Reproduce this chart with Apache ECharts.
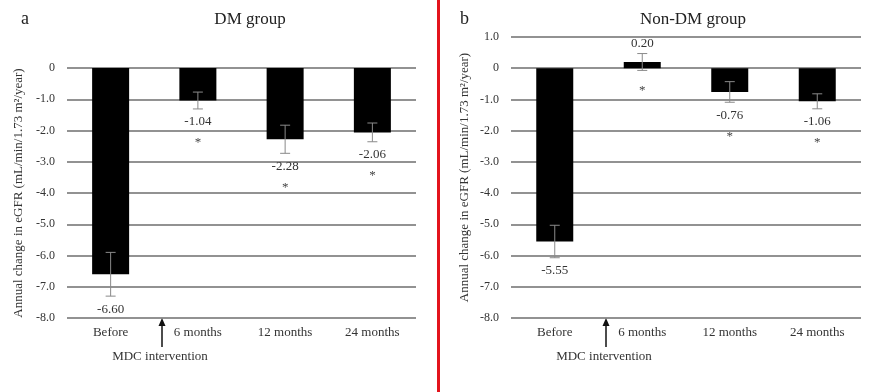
<!DOCTYPE html>
<html>
<head>
<meta charset="utf-8">
<script src="https://cdn.jsdelivr.net/npm/echarts@6/dist/echarts.min.js"></script>
<style>
  html, body { margin: 0; padding: 0; background: #fff; }
  #chart { width: 879px; height: 392px; }
</style>
</head>
<body>
<div id="chart"></div>
<script>
const categories = ['Before', '6 months', '12 months', '24 months']

// panel a: DM group
const dmValues = [-6.60, -1.04, -2.28, -2.06]
const dmErrors = [0.70, 0.27, 0.45, 0.30]
const dmStars = [0, 1, 1, 1]

// panel b: Non-DM group
const nonDmValues = [-5.55, 0.20, -0.76, -1.06]
const nonDmErrors = [0.52, 0.27, 0.33, 0.24]
const nonDmStars = [0, 1, 1, 1]

const dmAxisRange = [-8, 0]
const nonDmAxisRange = [-8, 1]

const font = 'Liberation Serif'
const textColor = '#333'
const axisTitle = 'Annual change in eGFR (mL/min/1.73 m²/year)'

const chart = echarts.init(document.getElementById('chart'))

const tickFormat = (v) => (v === 0 ? '0' : v.toFixed(1))

const errorItem = (params, api) => {
  const idx = api.value(0)
  const val = api.value(1)
  const err = api.value(2)
  const star = api.value(3)
  const hi = api.coord([idx, val + err])
  const lo = api.coord([idx, val - err])
  const x = hi[0]
  const half = 5
  const lineStyle = { stroke: '#8a8a8a', lineWidth: 1 }
  const children = [
    { type: 'line', shape: { x1: x, y1: hi[1], x2: x, y2: lo[1] }, style: lineStyle },
    { type: 'line', shape: { x1: x - half, y1: hi[1], x2: x + half, y2: hi[1] }, style: lineStyle },
    { type: 'line', shape: { x1: x - half, y1: lo[1], x2: x + half, y2: lo[1] }, style: lineStyle }
  ]
  let labelY, starY
  if (val >= 0) {
    labelY = hi[1] - 10
    starY = lo[1] + 17
  } else {
    labelY = lo[1] + 13
    starY = labelY + 18
  }
  children.push({
    type: 'text',
    style: {
      text: val.toFixed(2), x: x, y: labelY, align: 'center', verticalAlign: 'middle',
      font: '13px "' + font + '"', fill: textColor
    }
  })
  if (star) {
    children.push({
      type: 'text',
      style: {
        text: '*', x: x, y: starY + 3, align: 'center', verticalAlign: 'middle',
        font: '13px "' + font + '"', fill: '#444'
      }
    })
  }
  return { type: 'group', children }
}

const makeY = (idx, range, nameGap) => ({
  type: 'value',
  gridIndex: idx,
  min: range[0],
  max: range[1],
  interval: 1,
  name: axisTitle,
  nameLocation: 'middle',
  nameGap: nameGap,
  nameTextStyle: { fontFamily: font, fontSize: 13, color: textColor },
  axisLine: { show: false },
  axisTick: { show: false },
  axisLabel: { formatter: tickFormat, fontFamily: font, fontSize: 12, color: textColor, margin: 12 },
  splitLine: { show: true, lineStyle: { color: '#6e6e6e', width: 1.5 } }
})

const makeX = (idx) => ({
  type: 'category',
  gridIndex: idx,
  data: categories,
  axisLine: { show: false },
  axisTick: { show: false },
  axisLabel: { fontFamily: font, fontSize: 13, color: textColor, margin: 8 }
})

const arrow = (x, tipY, baseY) => [
  { type: 'line', shape: { x1: x, y1: tipY + 6, x2: x, y2: baseY }, style: { stroke: '#111', lineWidth: 1.5 } },
  { type: 'polygon', shape: { points: [[x, tipY], [x - 3.5, tipY + 8], [x + 3.5, tipY + 8]] }, style: { fill: '#111' } }
]

const option = {
  backgroundColor: '#fff',
  animation: false,
  title: [
    { text: 'DM group', left: 245, top: 6, textAlign: 'center', textStyle: { fontFamily: font, fontSize: 17, fontWeight: 'normal', color: '#222' } },
    { text: 'Non-DM group', left: 688, top: 6, textAlign: 'center', textStyle: { fontFamily: font, fontSize: 17, fontWeight: 'normal', color: '#222' } },
    { text: 'a', left: 16, top: 5, textStyle: { fontFamily: font, fontSize: 18, fontWeight: 'normal', color: '#222' } },
    { text: 'b', left: 455, top: 5, textStyle: { fontFamily: font, fontSize: 18, fontWeight: 'normal', color: '#222' } }
  ],
  grid: [
    { left: 67, right: 463, top: 68, bottom: 74 },
    { left: 511, right: 18, top: 37, bottom: 74 }
  ],
  xAxis: [makeX(0), makeX(1)],
  yAxis: [makeY(0, dmAxisRange, 42), makeY(1, nonDmAxisRange, 40)],
  series: [
    { type: 'bar', xAxisIndex: 0, yAxisIndex: 0, data: dmValues, barWidth: 37, itemStyle: { color: '#000' } },
    {
      type: 'custom', xAxisIndex: 0, yAxisIndex: 0, z: 5, renderItem: errorItem,
      data: dmValues.map((v, i) => [i, v, dmErrors[i], dmStars[i]])
    },
    { type: 'bar', xAxisIndex: 1, yAxisIndex: 1, data: nonDmValues, barWidth: 37, itemStyle: { color: '#000' } },
    {
      type: 'custom', xAxisIndex: 1, yAxisIndex: 1, z: 5, renderItem: errorItem,
      data: nonDmValues.map((v, i) => [i, v, nonDmErrors[i], nonDmStars[i]])
    }
  ],
  graphic: [
    { type: 'rect', shape: { x: 437, y: 0, width: 3, height: 392 }, style: { fill: '#e3141c' } },
    ...arrow(162, 318, 347),
    { type: 'text', style: { text: 'MDC intervention', x: 160, y: 357, align: 'center', verticalAlign: 'middle', font: '13px "' + font + '"', fill: textColor } },
    ...arrow(606, 318, 347),
    { type: 'text', style: { text: 'MDC intervention', x: 604, y: 357, align: 'center', verticalAlign: 'middle', font: '13px "' + font + '"', fill: textColor } }
  ]
}

chart.setOption(option)
</script>
</body>
</html>
